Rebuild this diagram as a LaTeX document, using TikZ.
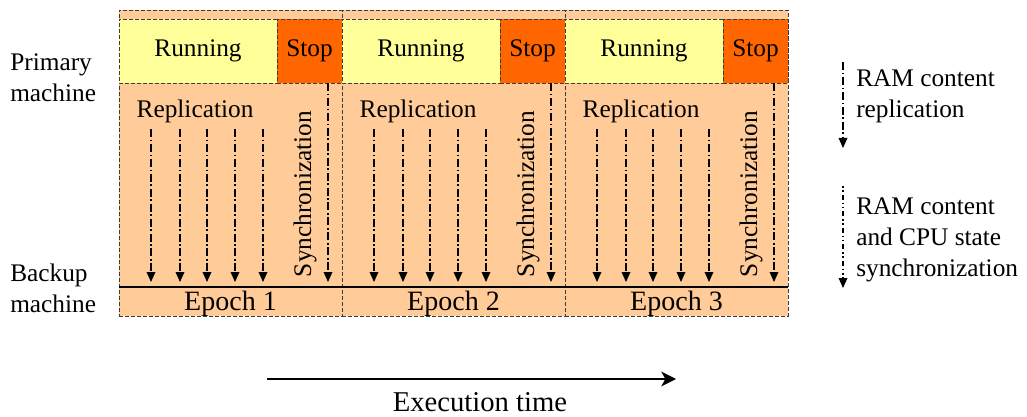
\documentclass[tikz,border=0pt]{standalone}
\usepackage{fontspec}
\setmainfont{Liberation Serif}
\newfontfamily\tms{Liberation Serif}
\usetikzlibrary{arrows.meta}
\definecolor{peach}{RGB}{255,204,153}
\definecolor{lightyel}{RGB}{255,255,153}
\definecolor{stoporange}{RGB}{255,102,0}
\definecolor{bord}{RGB}{60,60,60}
\tikzset{
  px/.style={x=0.75pt,y=-0.75pt},
  brd/.style={draw=bord,dash pattern=on 3pt off 1.5pt,line width=0.6pt},
  epochbox/.style={brd,fill=peach,minimum width=167.25pt,minimum height=229.5pt,inner sep=0pt},
  runbox/.style={brd,fill=lightyel,minimum width=118.5pt,minimum height=48pt,inner sep=0pt,font=\tms\fontsize{19}{23}\selectfont},
  stopbox/.style={brd,fill=stoporange,minimum width=48.75pt,minimum height=48pt,inner sep=0pt,font=\tms\fontsize{19}{23}\selectfont},
  lbl/.style={inner sep=0pt,font=\tms\fontsize{19}{23.25}\selectfont},
  eplbl/.style={inner sep=0pt,font=\tms\fontsize{21}{25}\selectfont},
  reparrow/.style={dash pattern=on 6pt off 2pt on 1.2pt off 2pt,line width=0.9pt,-{Triangle[width=6.5pt,length=7.5pt]}},
  syncarrow/.style={dash pattern=on 6pt off 2pt on 1.2pt off 2pt,line width=0.9pt,-{Triangle[width=6.5pt,length=7.5pt]}},
  legsync/.style={dash pattern=on 1.2pt off 2pt on 1.2pt off 2pt on 4pt off 2pt,line width=0.9pt,-{Triangle[width=6.5pt,length=7.5pt]}},
}
\begin{document}
\begin{tikzpicture}[px]
\useasboundingbox (0,0) rectangle (1027,417);
\foreach \i in {1,2,3}{
  \pgfmathsetmacro{\xo}{119+223*(\i-1)}
  \node[epochbox] (ep\i) at (\xo+111.5,163) {};
  \node[runbox] (run\i) at (\xo+79,51) {Running};
  \node[stopbox] (stop\i) at (\xo+190.5,51) {Stop};
  \node[lbl] (rep\i) at (\xo+76,111) {Replication};
  \foreach \k/\dx in {1/32,2/61,3/88,4/116,5/144}{
    \coordinate (rs\i\k) at (\xo+\dx,129);
    \coordinate (re\i\k) at (\xo+\dx,282);
    \draw[reparrow] (rs\i\k) -- (re\i\k);
  }
  \coordinate (ss\i) at (\xo+209,83);
  \coordinate (se\i) at (\xo+209,282);
  \draw[syncarrow] (ss\i) -- (se\i);
  \node[lbl,rotate=90] (syn\i) at (\xo+186,194) {Synchronization};
  \node[eplbl] (eplab\i) at (\xo+111.5,304) {Epoch \i};
}
\coordinate (hl) at (119,287);
\coordinate (hr) at (788,287);
\draw[line width=1.5pt] (hl) -- (hr);
\node[lbl,align=left,anchor=west] (prim) at (10,78) {Primary\\machine};
\node[lbl,align=left,anchor=west] (back) at (10,288) {Backup\\machine};
% legend
\coordinate (l1s) at (843,62);
\coordinate (l1e) at (843,148);
\draw[reparrow] (l1s) -- (l1e);
\node[lbl,align=left,anchor=west] (leg1) at (856,96) {RAM content\\replication};
\coordinate (l2s) at (843,186);
\coordinate (l2e) at (843,288);
\draw[legsync] (l2s) -- (l2e);
\node[lbl,align=left,anchor=west] (leg2) at (856,240) {RAM content\\and CPU state\\synchronization};
% execution time
\coordinate (ts) at (267,379);
\coordinate (te) at (676,379);
\draw[line width=1.5pt,-{Stealth[width=11pt,length=11pt,inset=3pt]}] (ts) -- (te);
\node[inner sep=0pt,font=\tms\fontsize{21.5}{26}\selectfont] (exe) at (480,402) {Execution time};
\end{tikzpicture}
\end{document}
